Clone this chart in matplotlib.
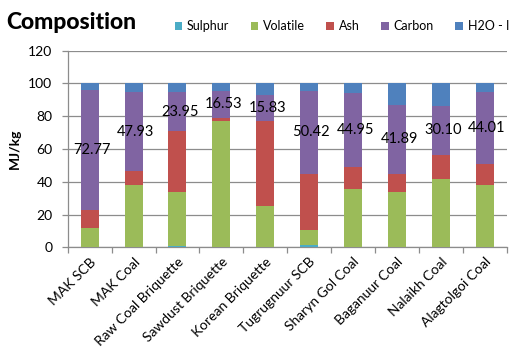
import matplotlib
matplotlib.use("Agg")
import matplotlib.pyplot as plt
import numpy as np

categories = ["MAK SCB", "MAK Coal", "Raw Coal Briquette", "Sawdust Briquette",
              "Korean Briquette", "Tugrugnuur SCB", "Sharyn Gol Coal",
              "Baganuur Coal", "Nalaikh Coal", "Alagtolgoi Coal"]
sulphur  = [0.0, 0.0, 0.8, 0.0, 0.0, 1.4, 0.0, 0.0, 0.0, 0.0]
volatile = [11.8, 38.0, 32.9, 77.0, 25.4, 9.2, 35.6, 33.7, 41.7, 38.0]
ash      = [11.2, 8.6, 37.2, 1.9, 51.6, 34.3, 13.4, 11.2, 14.6, 12.9]
carbon   = [72.77, 47.93, 23.95, 16.53, 15.83, 50.42, 44.95, 41.89, 30.10, 44.01]
h2o      = [4.23, 5.47, 5.15, 4.57, 7.17, 4.68, 6.05, 13.21, 13.60, 5.09]
series_names = ["Sulphur", "Volatile", "Ash", "Carbon", "H2O - I"]
colors = ["#4BACC6", "#9BBB59", "#C0504D", "#8064A2", "#4F81BD"]
yticks = [0, 20, 40, 60, 80, 100, 120]

plt.rcParams['font.family'] = ['Lato', 'DejaVu Sans']

fig = plt.figure(figsize=(5.27, 3.53), dpi=100)
ax = fig.add_axes([0.1285, 0.2994, 0.833, 0.557])

x = np.arange(len(categories))
bottom = np.zeros(len(categories))
handles = []
for name, vals, c in zip(series_names, [sulphur, volatile, ash, carbon, h2o], colors):
    vals = np.array(vals)
    b = ax.bar(x, vals, 0.41, bottom=bottom, color=c, label=name, zorder=3)
    handles.append(b)
    if name == "Carbon":
        for xi, bt, v in zip(x, bottom, vals):
            ax.text(xi + 0.05, bt + v / 2, f"{v:.2f}", ha="center", va="center",
                    fontsize=10.5, color="black", zorder=5)
    bottom = bottom + vals

ax.set_xlim(-0.5, len(categories) - 0.5)
ax.set_ylim(0, 120)
ax.set_yticks(yticks)
ax.set_yticklabels([str(t) for t in yticks], fontsize=10)
ax.yaxis.grid(True, color="#8c8c8c", linewidth=0.9, zorder=0)
ax.set_axisbelow(True)

ax.set_xticks(x)
ax.set_xticklabels(categories, rotation=45, ha="right", rotation_mode="anchor", fontsize=10)
ax.tick_params(axis="x", length=0, pad=6)
ax.set_xticks(np.arange(-0.5, len(categories)), minor=True)
ax.tick_params(axis="x", which="minor", length=4, color="#8c8c8c", width=0.9)
ax.tick_params(axis="y", length=4, color="#8c8c8c", width=0.9, pad=7)

for s in ["top", "right"]:
    ax.spines[s].set_visible(False)
for s in ["left", "bottom"]:
    ax.spines[s].set_color("#8c8c8c")
    ax.spines[s].set_linewidth(0.9)

ax.set_ylabel("MJ/kg", fontsize=10, fontweight="bold", labelpad=5)

fig.text(0.012, 0.935, "Composition", fontsize=16.5, fontweight="black", va="center", ha="left")
fig.legend(handles=handles, labels=series_names, loc="center left",
           bbox_to_anchor=(0.31, 0.925), ncol=5, frameon=False, fontsize=9,
           handlelength=0.6, handleheight=0.6, handletextpad=0.4, columnspacing=1.7)

fig.savefig("out.png", dpi=100)
